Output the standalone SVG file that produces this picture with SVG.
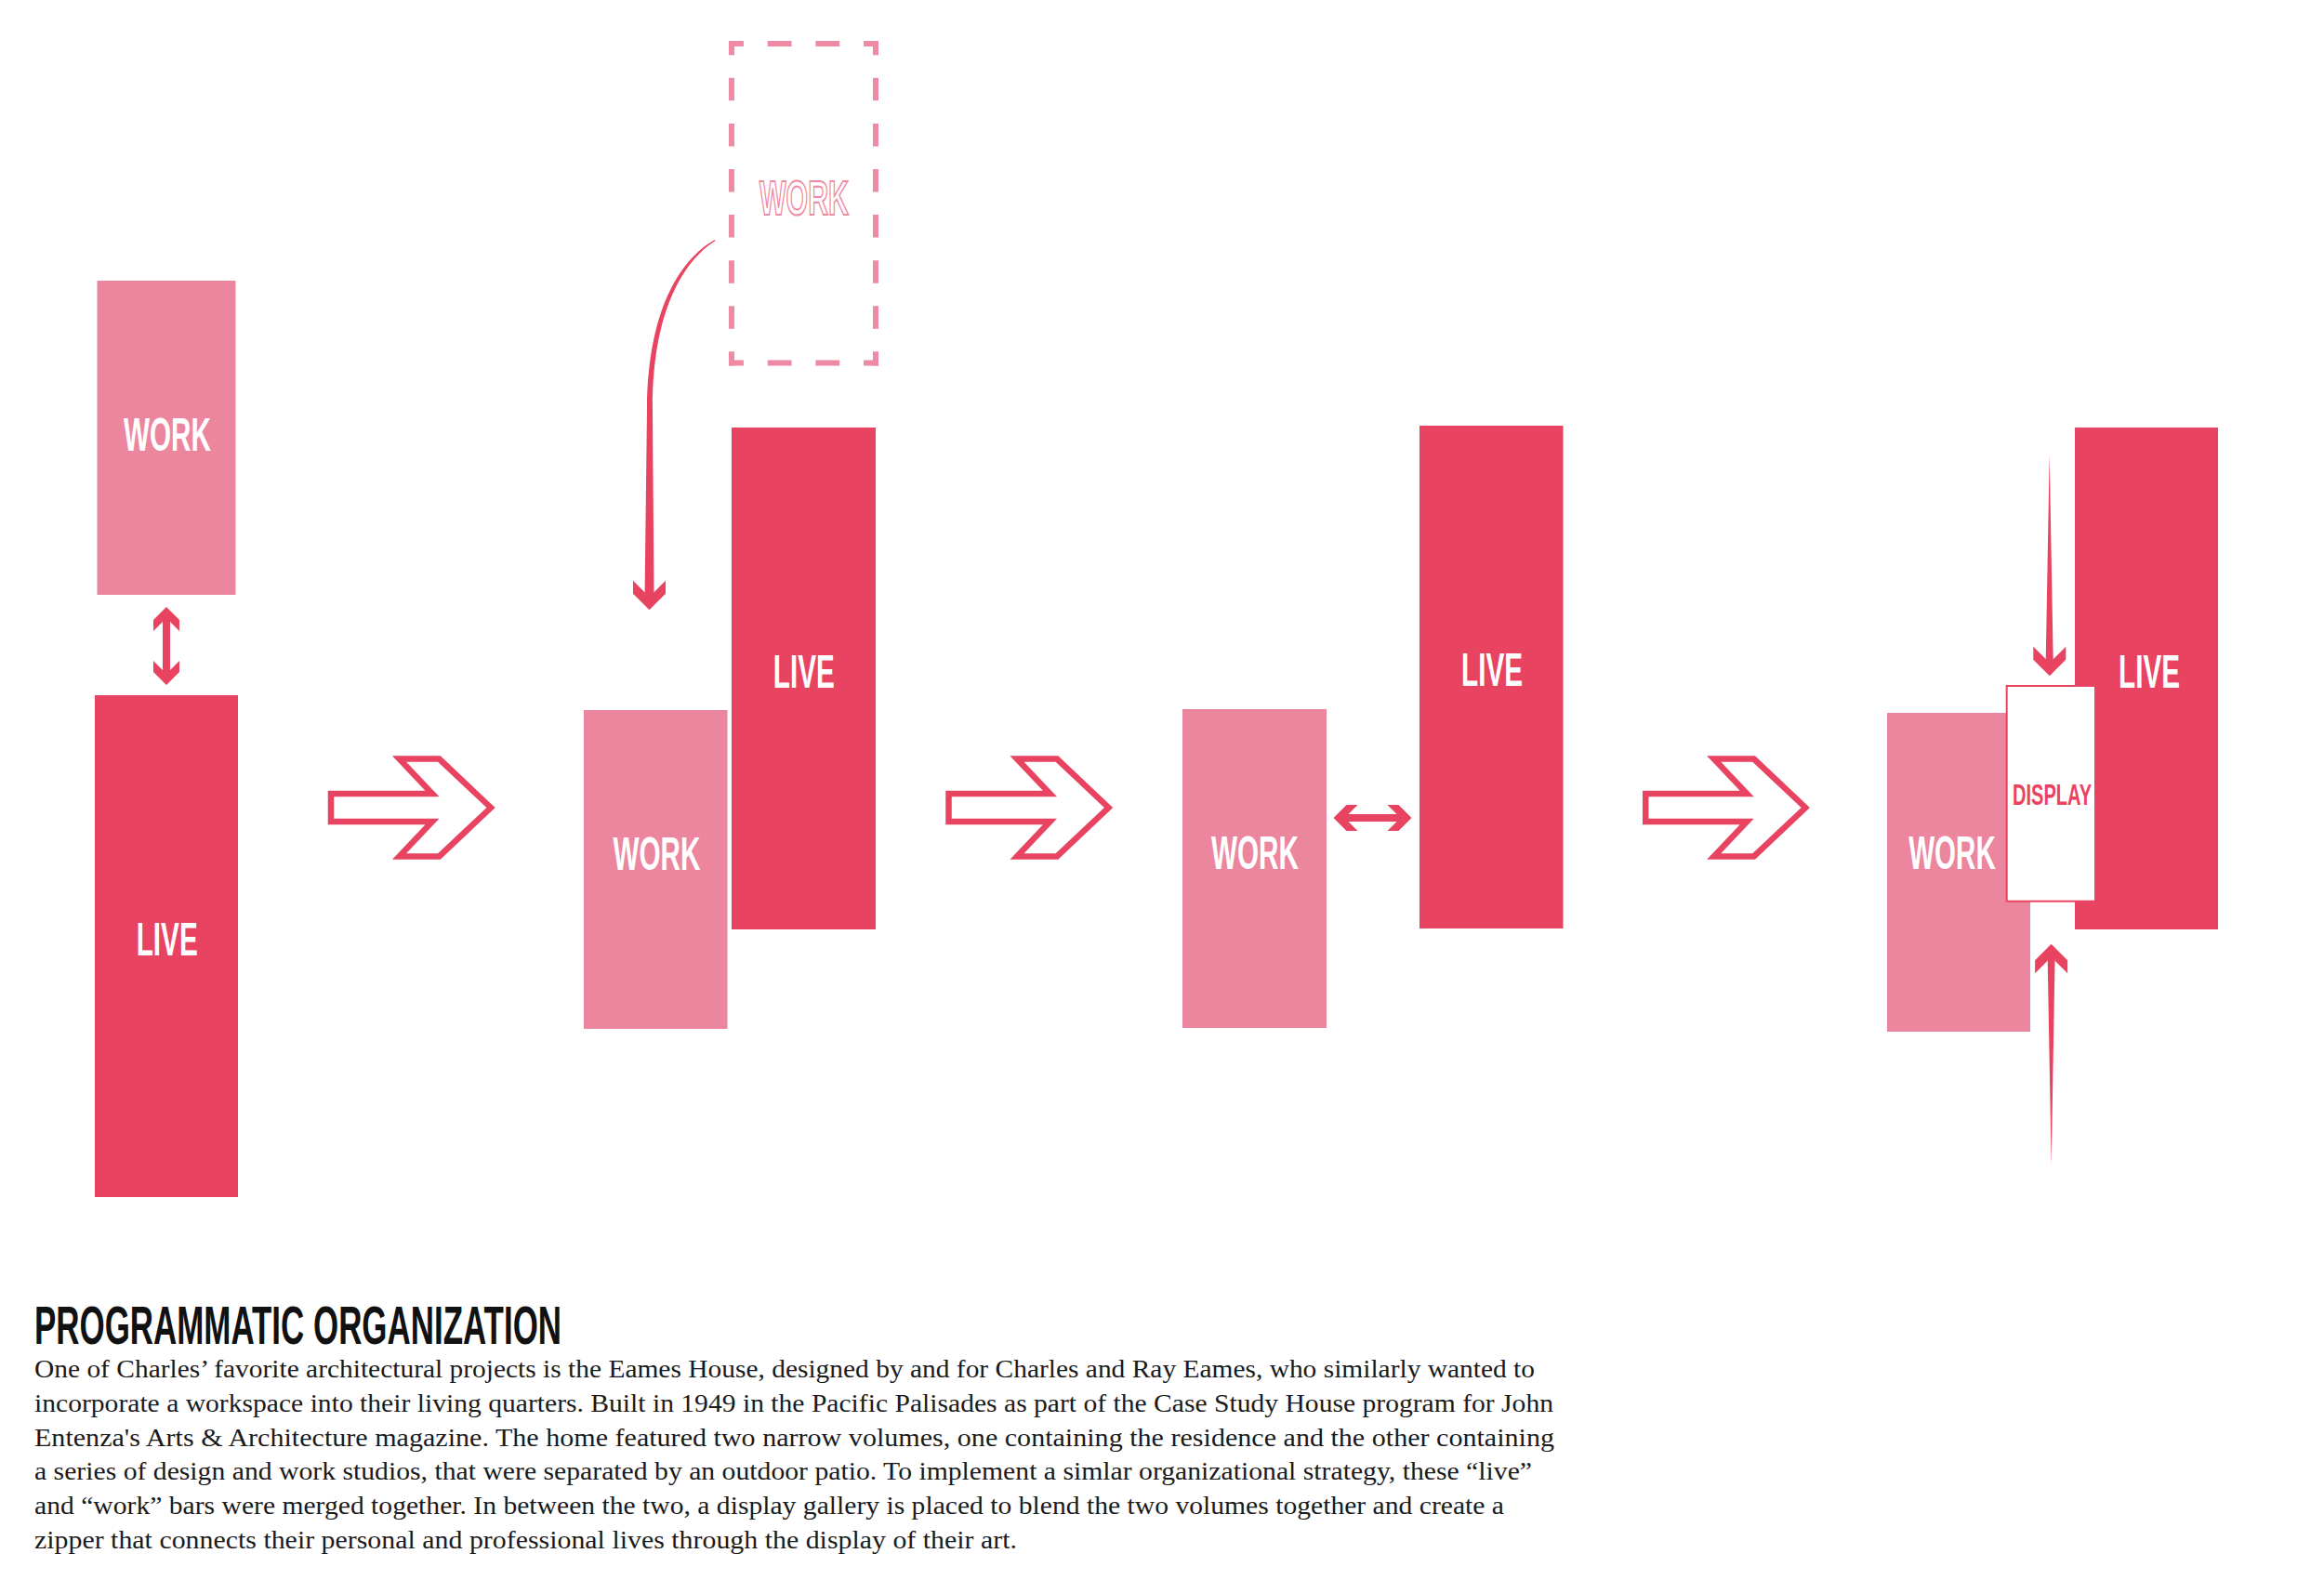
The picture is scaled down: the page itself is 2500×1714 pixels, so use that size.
<svg xmlns="http://www.w3.org/2000/svg" xmlns:xlink="http://www.w3.org/1999/xlink" width="2500" height="1714" viewBox="0 0 2500 1714">
  <style>
    .live { fill: #E94362; }
    .work { fill: #EC869F; }
    .lbl { font-family: "Liberation Sans", Arial, sans-serif; font-weight: bold; font-size: 50px; fill: #ffffff; text-anchor: middle; }
    .ghost { fill: none; stroke: #EE8AA3; stroke-width: 6; }
    .ghostlbl { font-family: "Liberation Sans", Arial, sans-serif; font-weight: bold; font-size: 52px; fill: #ffffff; stroke: #EE8AA3; stroke-width: 2; text-anchor: middle; }
    .disp { fill: #ffffff; stroke: #E94362; stroke-width: 2; }
    .displbl { font-family: "Liberation Sans", Arial, sans-serif; font-weight: bold; font-size: 32px; fill: #E94362; text-anchor: middle; }
    .red { fill: #E94362; }
    .outarrow { fill: #ffffff; stroke: #E94362; stroke-width: 6.5; stroke-linejoin: miter; }
    .title { font-family: "Liberation Sans", Arial, sans-serif; font-weight: bold; font-size: 57px; fill: #111111; }
    .body { font-family: "Liberation Serif", "Times New Roman", serif; font-size: 27.5px; fill: #1a1a1a; }
  </style>
  <defs>
    <path id="dbl" d="M0,-42 L14,-28 L14,-16 L4,-26 L4,26 L14,16 L14,28 L0,42 L-14,28 L-14,16 L-4,26 L-4,-26 L-14,-16 L-14,-28 Z"/>
    <path id="outArrow" d="M0,-15 L109,-15 L73.5,-52.4 L116.5,-52.4 L172,0 L116.5,52.4 L73.5,52.4 L109,15 L0,15 Z"/>
    <path id="chev" d="M-17.5,-31.5 L0,-14 L17.5,-31.5 L17.5,-17.5 L0,0 L-17.5,-17.5 Z"/>
  </defs>
  <rect x="0" y="0" width="2500" height="1714" fill="#ffffff"/>

  <!-- Panel 1 -->
  <g id="p1-work">
    <rect class="work" x="104.5" y="302" width="149" height="338"/>
    <text class="lbl" x="180" y="484.6" textLength="94" lengthAdjust="spacingAndGlyphs">WORK</text>
  </g>
  <g id="p1-live">
    <rect class="live" x="102" y="748" width="154" height="540"/>
    <text class="lbl" x="179.7" y="1028.4" textLength="66" lengthAdjust="spacingAndGlyphs">LIVE</text>
  </g>

  <!-- Panel 2 -->
  <g id="p2-work-ghost">
    <path class="ghost" d="M784,47 H945" stroke-dasharray="25.83 25.83" stroke-dashoffset="9.92"/>
    <path class="ghost" d="M784,390.5 H945" stroke-dasharray="25.83 25.83" stroke-dashoffset="9.92"/>
    <path class="ghost" d="M787,44 V393.5" stroke-dasharray="24.54 24.54" stroke-dashoffset="9.27"/>
    <path class="ghost" d="M942,44 V393.5" stroke-dasharray="24.54 24.54" stroke-dashoffset="9.27"/>
    <text class="ghostlbl" x="865" y="231" textLength="96" lengthAdjust="spacingAndGlyphs">WORK</text>
  </g>
  <g id="p2-live">
    <rect class="live" x="787" y="460" width="155" height="540"/>
    <text class="lbl" x="864.8" y="740" textLength="66" lengthAdjust="spacingAndGlyphs">LIVE</text>
  </g>
  <g id="p2-work">
    <rect class="work" x="628" y="764" width="154.5" height="343"/>
    <text class="lbl" x="706.5" y="936" textLength="94" lengthAdjust="spacingAndGlyphs">WORK</text>
  </g>

  <!-- Panel 3 -->
  <g id="p3-work">
    <rect class="work" x="1272" y="763" width="155" height="343"/>
    <text class="lbl" x="1350" y="934.5" textLength="94" lengthAdjust="spacingAndGlyphs">WORK</text>
  </g>
  <g id="p3-live">
    <rect class="live" x="1527" y="458" width="154.5" height="541"/>
    <text class="lbl" x="1605" y="738.3" textLength="66" lengthAdjust="spacingAndGlyphs">LIVE</text>
  </g>

  <!-- Panel 4 -->
  <g id="p4-work">
    <rect class="work" x="2030" y="767" width="154" height="343"/>
    <text class="lbl" x="2100" y="935" textLength="93.5" lengthAdjust="spacingAndGlyphs">WORK</text>
  </g>
  <g id="p4-live">
    <rect class="live" x="2232" y="460" width="154" height="540"/>
    <text class="lbl" x="2312" y="740" textLength="66" lengthAdjust="spacingAndGlyphs">LIVE</text>
  </g>
  <g id="p4-display">
    <rect class="disp" x="2158.7" y="738" width="95.3" height="231.7"/>
    <text class="displbl" x="2207.5" y="865.7" textLength="85" lengthAdjust="spacingAndGlyphs">DISPLAY</text>
  </g>

  <!-- Connectors -->
  <g id="connectors">
    <use xlink:href="#dbl" href="#dbl" class="red" transform="translate(179,695)"/>
    <use xlink:href="#dbl" href="#dbl" class="red" transform="translate(1476.5,880) rotate(90)"/>
    <use xlink:href="#outArrow" href="#outArrow" class="outarrow" transform="translate(356,869)"/>
    <use xlink:href="#outArrow" href="#outArrow" class="outarrow" transform="translate(1020.5,869)"/>
    <use xlink:href="#outArrow" href="#outArrow" class="outarrow" transform="translate(1770.2,869)"/>
    <!-- curved arrow from ghost work into position -->
    <path class="red" d="M769,258 C745,271 697,314 696,440 L693.5,644 L703.5,644 L702,440 C702,318 746,274 769.5,259 Z"/>
    <use xlink:href="#chev" href="#chev" class="red" transform="translate(698.5,656.3)"/>
    <!-- zipper arrows -->
    <path class="red" d="M2204.7,489 L2208.8,716 L2200.6,716 Z"/>
    <use xlink:href="#chev" href="#chev" class="red" transform="translate(2204.8,727.3)"/>
    <path class="red" d="M2202.6,1028 L2210.6,1028 L2206.7,1254 Z"/>
    <use xlink:href="#chev" href="#chev" class="red" transform="translate(2206.6,1015.7) rotate(180)"/>
  </g>

  <!-- Text -->
  <g id="caption">
    <text class="title" x="37" y="1446" textLength="567" lengthAdjust="spacingAndGlyphs">PROGRAMMATIC ORGANIZATION</text>
    <text class="body" x="37" y="1482" textLength="1614" lengthAdjust="spacingAndGlyphs">One of Charles’ favorite architectural projects is the Eames House, designed by and for Charles and Ray Eames, who similarly wanted to</text>
    <text class="body" x="37" y="1519" textLength="1634" lengthAdjust="spacingAndGlyphs">incorporate a workspace into their living quarters. Built in 1949 in the Pacific Palisades as part of the Case Study House program for John</text>
    <text class="body" x="37" y="1555.5" textLength="1635" lengthAdjust="spacingAndGlyphs">Entenza's Arts &amp; Architecture magazine. The home featured two narrow volumes, one containing the residence and the other containing</text>
    <text class="body" x="37" y="1592" textLength="1611" lengthAdjust="spacingAndGlyphs">a series of design and work studios, that were separated by an outdoor patio. To implement a simlar organizational strategy, these “live”</text>
    <text class="body" x="37" y="1629" textLength="1581" lengthAdjust="spacingAndGlyphs">and “work” bars were merged together. In between the two, a display gallery is placed to blend the two volumes together and create a</text>
    <text class="body" x="37" y="1665.5" textLength="1057" lengthAdjust="spacingAndGlyphs">zipper that connects their personal and professional lives through the display of their art.</text>
  </g>
</svg>
